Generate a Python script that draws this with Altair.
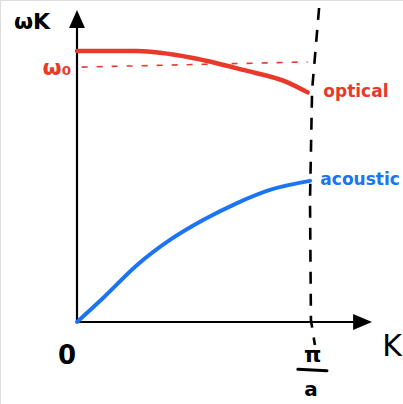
import altair as alt
import pandas as pd

# Dispersion sketch of a diatomic chain: k in units of pi/a, omega in units of omega_0
k_acoustic = [0.0, 0.112, 0.258, 0.399, 0.541, 0.687, 0.828, 1.0]
w_acoustic = [0.0, 0.093, 0.221, 0.318, 0.395, 0.461, 0.512, 0.547]

k_optical = [0.0, 0.258, 0.498, 0.712, 0.901, 0.99]
w_optical = [1.050, 1.050, 1.023, 0.977, 0.930, 0.89]

k_w0 = [0.02, 0.99]
w_w0 = [0.988, 1.008]

# hand-drawn zone boundary at k = pi/a
k_zone = [1.039, 1.009, 1.0, 1.004, 1.021]
w_zone = [1.217, 0.899, 0.473, 0.008, -0.089]

RED = "#e8392b"
BLUE = "#1a74f4"
FONT = "DejaVu Sans"

xs = alt.Scale(domain=[-0.33047, 1.39914], nice=False, zero=False)
ys = alt.Scale(domain=[-0.31783, 1.24806], nice=False, zero=False)
X = lambda f: alt.X(f, type="quantitative", scale=xs, axis=None)
Y = lambda f: alt.Y(f, type="quantitative", scale=ys, axis=None)


def line(ks, ws, color, width, dash=None, interp="linear"):
    df = pd.DataFrame({"k": ks, "w": ws, "i": range(len(ks))})
    kw = dict(color=color, strokeWidth=width, strokeCap="round",
              strokeJoin="round", interpolate=interp)
    if dash:
        kw["strokeDash"] = dash
        kw["strokeCap"] = "butt"
    return alt.Chart(df).mark_line(**kw).encode(
        x=X("k"), y=Y("w"), order=alt.Order("i:Q")
    )


acoustic = line(k_acoustic, w_acoustic, BLUE, 4, interp="monotone")
optical = line(k_optical, w_optical, RED, 4.5, interp="monotone")
omega0 = line(k_w0, w_w0, RED, 1.6, dash=[6, 9])
zone = line(k_zone, w_zone, "black", 2.6, dash=[12, 10])

# axes with arrowheads
y_axis = line([0, 0], [0, 1.15], "black", 2.2)
x_axis = line([0, 1.19], [0, 0], "black", 2.2)

y_head = alt.Chart(pd.DataFrame({"k": [-0.034, 0.0, 0.034], "w": [1.140, 1.209, 1.140], "b": [1.140] * 3})).mark_area(
    color="black", orient="vertical"
).encode(x=X("k"), y=Y("w"), y2="b")

x_head = alt.Chart(pd.DataFrame({"w": [-0.031, 0.0, 0.031], "k": [1.185, 1.266, 1.185], "b": [1.185] * 3})).mark_area(
    color="black", orient="horizontal"
).encode(y=Y("w"), x=X("k"), x2="b")

frac_bar = line([0.948, 1.073], [-0.183, -0.189], "black", 3)


def label(text, k, w, color, size, weight="bold"):
    return alt.Chart(pd.DataFrame({"k": [k], "w": [w], "t": [text]})).mark_text(
        font=FONT, fontSize=size, fontWeight=weight, color=color,
        align="center", baseline="middle"
    ).encode(x=X("k"), y=Y("w"), text="t:N")


labels = [
    label("ωK", -0.193, 1.163, "black", 22),
    label("ω₀", -0.086, 0.985, RED, 22),
    label("optical", 1.197, 0.890, RED, 17),
    label("acoustic", 1.215, 0.550, BLUE, 17),
    label("0", -0.043, -0.132, "black", 26),
    label("K", 1.352, -0.097, "black", 30, weight="normal"),
    label("π", 1.012, -0.128, "black", 22),
    label("a", 1.004, -0.262, "black", 20),
]

chart = alt.layer(
    omega0, zone, y_axis, x_axis, y_head, x_head, frac_bar, acoustic, optical, *labels
).properties(
    width=403, height=404, padding=0, autosize=alt.AutoSizeParams(type="none")
).configure_view(stroke=None).configure(background="white")

chart.save("out.html", embed_options={"renderer": "svg", "actions": False})
